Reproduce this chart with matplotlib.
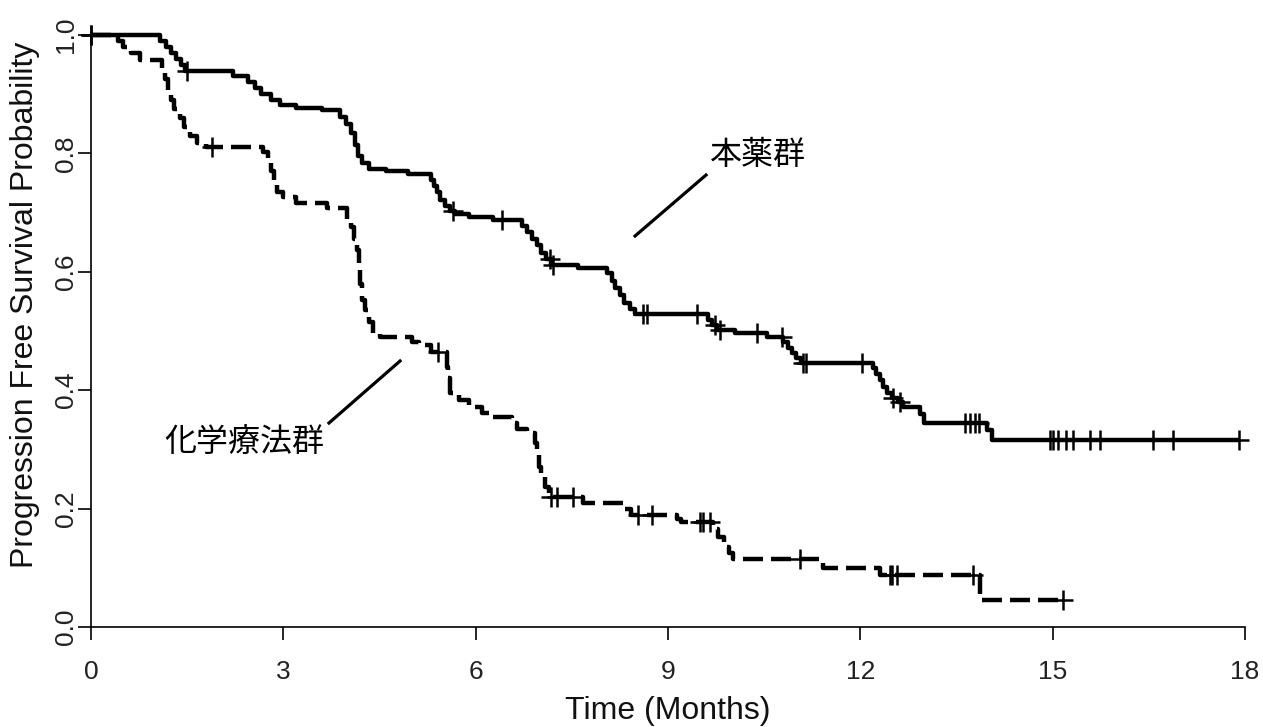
import numpy as np
import matplotlib
matplotlib.use('Agg')
import matplotlib.pyplot as plt

# 本薬群 (solid): step times and survival after each step
drug_t = [0, 1.08, 1.17, 1.25, 1.32, 1.40, 1.47, 2.22, 2.45, 2.55, 2.65, 2.80, 2.95, 3.2, 3.6,
          3.88, 3.98, 4.05, 4.12, 4.17, 4.23, 4.33, 4.6, 4.95, 5.30, 5.35, 5.40, 5.45, 5.52, 5.60,
          5.68, 5.90, 6.27, 6.72, 6.80, 6.88, 6.95, 7.02, 7.10, 7.18, 7.60, 8.05, 8.12, 8.18, 8.25,
          8.32, 8.40, 8.48, 9.62, 9.68, 9.76, 10.05, 10.55, 10.80, 10.87, 10.93, 11.00, 11.08,
          12.20, 12.25, 12.30, 12.36, 12.42, 12.50, 12.58, 12.66, 12.93, 13.00, 13.98, 14.05]
drug_s = [1.0, 0.99, 0.98, 0.97, 0.96, 0.95, 0.94, 0.93, 0.92, 0.91, 0.90, 0.89, 0.882, 0.877, 0.873,
          0.862, 0.850, 0.835, 0.815, 0.795, 0.783, 0.774, 0.770, 0.765, 0.755, 0.745, 0.735, 0.722,
          0.712, 0.703, 0.698, 0.692, 0.688, 0.678, 0.668, 0.655, 0.645, 0.632, 0.622, 0.612, 0.606,
          0.598, 0.585, 0.572, 0.560, 0.548, 0.538, 0.528, 0.518, 0.510, 0.502, 0.497, 0.490, 0.482,
          0.472, 0.463, 0.455, 0.446, 0.437, 0.427, 0.417, 0.405, 0.395, 0.387, 0.380, 0.372, 0.360,
          0.345, 0.333, 0.316]
drug_end = 17.9
drug_cens = [0, 1.50, 5.65, 6.41, 7.16, 7.21, 8.61, 8.67, 9.45, 9.73, 9.81, 10.39, 10.78, 11.11,
             11.15, 12.03, 12.51, 12.62, 13.63, 13.71, 13.79, 13.85, 14.96, 15.0, 15.08, 15.21,
             15.32, 15.58, 15.74, 16.57, 16.88, 17.9]

# 化学療法群 (dashed)
chemo_t = [0, 0.42, 0.50, 0.62, 0.76, 1.10, 1.15, 1.20, 1.25, 1.30, 1.38, 1.45, 1.55, 1.65, 1.80,
           2.68, 2.76, 2.80, 2.85, 2.90, 3.00, 3.20, 3.68, 3.99, 4.05, 4.10, 4.15, 4.18, 4.20, 4.22,
           4.28, 4.33, 4.40, 4.50, 5.00, 5.12, 5.30, 5.55, 5.57, 5.60, 5.74, 5.90, 6.10, 6.27, 6.57,
           6.65, 6.80, 6.93, 6.95, 6.98, 7.02, 7.08, 7.14, 7.67, 8.33, 8.42, 9.14, 9.20, 9.70, 9.78,
           9.88, 9.95, 10.02, 11.42, 12.30, 13.87]
chemo_s = [1.0, 0.99, 0.98, 0.97, 0.958, 0.945, 0.925, 0.905, 0.89, 0.875, 0.86, 0.845, 0.83, 0.818,
           0.811, 0.802, 0.79, 0.77, 0.75, 0.735, 0.726, 0.716, 0.708, 0.69, 0.676, 0.655, 0.637,
           0.61, 0.58, 0.552, 0.535, 0.515, 0.497, 0.49, 0.481, 0.476, 0.465, 0.44, 0.42, 0.395,
           0.383, 0.372, 0.362, 0.355, 0.345, 0.335, 0.328, 0.311, 0.29, 0.27, 0.253, 0.236, 0.22,
           0.209, 0.199, 0.189, 0.182, 0.177, 0.165, 0.152, 0.135, 0.125, 0.115, 0.10, 0.088, 0.046]
chemo_end = 15.16
chemo_cens = [0, 1.89, 5.41, 7.17, 7.27, 7.52, 8.53, 8.75, 9.50, 9.55, 9.66, 11.06, 12.46, 12.50,
              12.57, 13.76, 15.16]

x_ticks = [0, 3, 6, 9, 12, 15, 18]
y_ticks = [0.0, 0.2, 0.4, 0.6, 0.8, 1.0]

W, H = 1263, 727
fig = plt.figure(figsize=(W / 100, H / 100), dpi=100)
ax = fig.add_axes([71.8 / W, (H - 638.8) / H, (1261 - 71.8) / W, (638.8 - 23.2) / H])
ax.set_xlim(-0.3, 18.25)
ax.set_ylim(-0.02, 1.02)


def level_at(t, s, x):
    idx = np.searchsorted(t, x, side='right') - 1
    return np.asarray(s)[idx]


for t, s, end, cens, dashed in [(drug_t, drug_s, drug_end, drug_cens, False),
                                (chemo_t, chemo_s, chemo_end, chemo_cens, True)]:
    tt = list(t) + [end]
    ss = list(s) + [s[-1]]
    line, = ax.step(tt, ss, where='post', color='black', lw=3.2, solid_capstyle='butt')
    if dashed:
        line.set_dashes((4.5, 1.8))
    ax.plot(cens, level_at(t, s, cens), linestyle='none', marker='+', ms=15, mew=1.8,
            color='black', clip_on=False)

# labels on the curves
cjk = 'Noto Sans CJK JP'
ax.plot([8.486, 9.593], [0.6605, 0.7635], color='black', lw=2.3)
ax.text(10.40, 0.797, '本薬群', fontsize=23, family=cjk, ha='center', va='center')
ax.plot([3.712, 4.820], [0.3446, 0.4493], color='black', lw=2.3)
ax.text(2.386, 0.3125, '化学療法群', fontsize=23, family=cjk, ha='center', va='center')

# R-like axes
for side in ['top', 'right']:
    ax.spines[side].set_visible(False)
ax.spines['left'].set_position(('data', 0))
ax.spines['bottom'].set_position(('data', 0))
ax.spines['left'].set_bounds(0, 1)
ax.spines['bottom'].set_bounds(0, 18)
ax.spines['left'].set_linewidth(1.2)
ax.spines['bottom'].set_linewidth(1.2)

ax.set_xticks(x_ticks)
ax.set_xticklabels([str(v) for v in x_ticks])
ax.set_yticks(y_ticks)
ax.set_yticklabels([f'{v:.1f}' for v in y_ticks], rotation=90, va='center')
ax.tick_params(length=9.5, width=1.2, labelsize=19)
ax.tick_params(axis='x', pad=14)
ax.tick_params(axis='y', pad=0)
for lab in ax.get_xticklabels() + ax.get_yticklabels():
    lab.set_family('Liberation Sans')
    lab.set_color('#222222')

fig.text(668 / W, 8 / H, 'Time (Months)', fontsize=23, family='Liberation Sans',
         ha='center', va='baseline', color='#111111')
fig.text(25 / W, (H - 305) / H, 'Progression Free Survival Probability', fontsize=23,
         family='Liberation Sans', rotation=90, ha='center', va='center', color='#111111')

fig.savefig('out.png', dpi=100)
